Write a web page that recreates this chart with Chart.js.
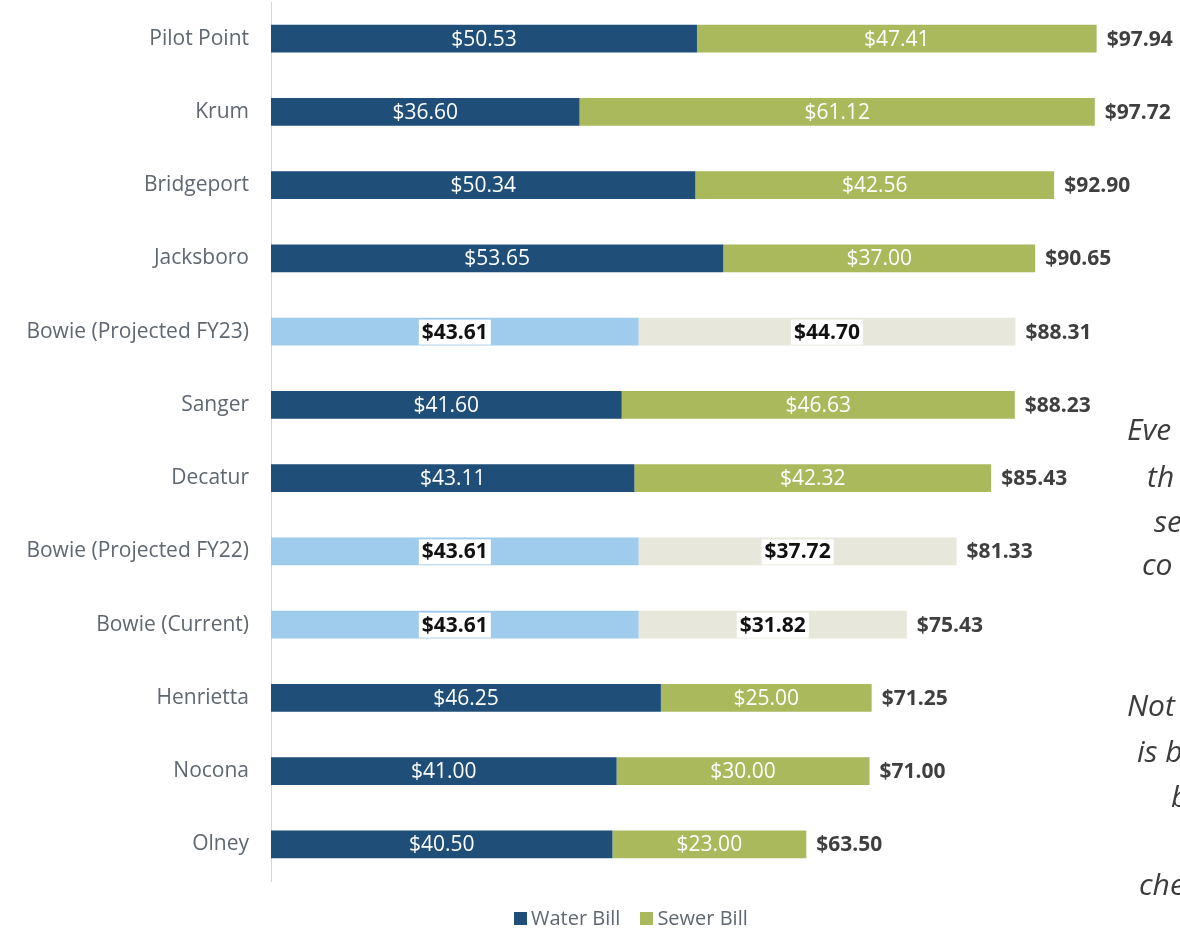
<!DOCTYPE html>
<html>
<head>
<meta charset="utf-8">
<script src="https://cdn.jsdelivr.net/npm/chart.js@4.4.1/dist/chart.umd.min.js"></script>
<style>
  html, body { margin: 0; padding: 0; background: #ffffff; }
  #wrap { position: relative; width: 1180px; height: 930px; overflow: hidden; }
  #wrap canvas { position: absolute; left: 0; top: 0; }
  #legend {
    position: absolute; top: 904px; left: 514px;
    font: 20px "Open Sans", sans-serif; color: #5f6770;
    display: flex; gap: 20px; white-space: nowrap;
  }
  #legend span.sw { display: inline-block; width: 13px; height: 13px; margin-right: 4px; vertical-align: 0px; }
  #note {
    position: absolute; left: 1100px; top: 0; width: 200px; height: 930px;
    font: italic 30px "Open Sans", sans-serif; color: #3c3c3c;
  }
  #note div { position: absolute; white-space: nowrap; }
</style>
</head>
<body>
<div id="wrap">
  <canvas id="billChart" width="1180" height="930"></canvas>
  <div id="legend"></div>
  <div id="note">
    <div style="left:27px;top:408px;">Eve</div>
    <div style="left:47px;top:455px;">th</div>
    <div style="left:54px;top:500px;">se</div>
    <div style="left:42px;top:543px;">co</div>
    <div style="left:27px;top:684px;">Not</div>
    <div style="left:37px;top:730px;">is b</div>
    <div style="left:71px;top:775px;">b</div>
    <div style="left:39px;top:863px;">che</div>
  </div>
</div>
<script>
  const cities = [
    "Pilot Point", "Krum", "Bridgeport", "Jacksboro", "Bowie (Projected FY23)",
    "Sanger", "Decatur", "Bowie (Projected FY22)", "Bowie (Current)",
    "Henrietta", "Nocona", "Olney"
  ];
  const waterBill = [50.53, 36.60, 50.34, 53.65, 43.61, 41.60, 43.11, 43.61, 43.61, 46.25, 41.00, 40.50];
  const sewerBill = [47.41, 61.12, 42.56, 37.00, 44.70, 46.63, 42.32, 37.72, 31.82, 25.00, 30.00, 23.00];
  const totalBill = [97.94, 97.72, 92.90, 90.65, 88.31, 88.23, 85.43, 81.33, 75.43, 71.25, 71.00, 63.50];

  const WATER = "#1f4e79";
  const SEWER = "#a9b95c";
  const WATER_BOWIE = "#9fcbec";
  const SEWER_BOWIE = "#e8e7dc";

  const isBowie = (name) => name.startsWith("Bowie");
  const money = (v) => "$" + v.toFixed(2);

  const segmentLabels = {
    id: "segmentLabels",
    afterDatasetsDraw(chart) {
      const ctx = chart.ctx;
      ctx.save();
      ctx.textAlign = "center";
      ctx.textBaseline = "middle";
      chart.data.datasets.forEach((ds, di) => {
        const meta = chart.getDatasetMeta(di);
        meta.data.forEach((bar, i) => {
          const cx = (bar.x + bar.base) / 2;
          const txt = money(ds.data[i]);
          if (isBowie(cities[i])) {
            ctx.font = "bold 21px 'Open Sans', sans-serif";
            const w = ctx.measureText(txt).width;
            ctx.fillStyle = "#ffffff";
            ctx.fillRect(cx - w / 2 - 3, bar.y - 12, w + 6, 25);
            ctx.fillStyle = "#111111";
          } else {
            ctx.font = "21px 'Open Sans', sans-serif";
            ctx.fillStyle = "#ffffff";
          }
          ctx.fillText(txt, cx, bar.y + 1);
        });
      });
      // totals to the right of each bar
      const last = chart.getDatasetMeta(chart.data.datasets.length - 1);
      ctx.textAlign = "left";
      ctx.font = "bold 21px 'Open Sans', sans-serif";
      ctx.fillStyle = "#3f3f3f";
      last.data.forEach((bar, i) => {
        ctx.fillText(money(totalBill[i]), bar.x + 10, bar.y + 1);
      });
      ctx.restore();
    }
  };

  const chart = new Chart(document.getElementById("billChart"), {
    type: "bar",
    data: {
      labels: cities,
      datasets: [
        {
          label: "Water Bill",
          data: waterBill,
          backgroundColor: cities.map((c) => (isBowie(c) ? WATER_BOWIE : WATER)),
          legendColor: WATER,
          barPercentage: 0.38,
          categoryPercentage: 1
        },
        {
          label: "Sewer Bill",
          data: sewerBill,
          backgroundColor: cities.map((c) => (isBowie(c) ? SEWER_BOWIE : SEWER)),
          legendColor: SEWER,
          barPercentage: 0.38,
          categoryPercentage: 1
        }
      ]
    },
    options: {
      indexAxis: "y",
      responsive: false,
      animation: false,
      layout: { padding: { top: 2, bottom: 49, left: 0, right: 66 } },
      plugins: { legend: { display: false }, tooltip: { enabled: false } },
      scales: {
        x: { stacked: true, min: 0, max: 100, display: false },
        y: {
          stacked: true,
          afterFit(scale) {
            scale.width = 271;
            scale.paddingTop = 0;
            scale.paddingBottom = 0;
          },
          grid: { display: false },
          border: { display: true, color: "#d6d6d6", width: 1 },
          ticks: {
            color: "#5f6770",
            padding: 14,
            font: { family: "'Open Sans', sans-serif", size: 21 }
          }
        }
      }
    },
    plugins: [segmentLabels]
  });

  document.getElementById("legend").innerHTML = chart.data.datasets
    .map((ds) => `<div><span class="sw" style="background:${ds.legendColor}"></span>${ds.label}</div>`)
    .join("");
</script>
</body>
</html>
